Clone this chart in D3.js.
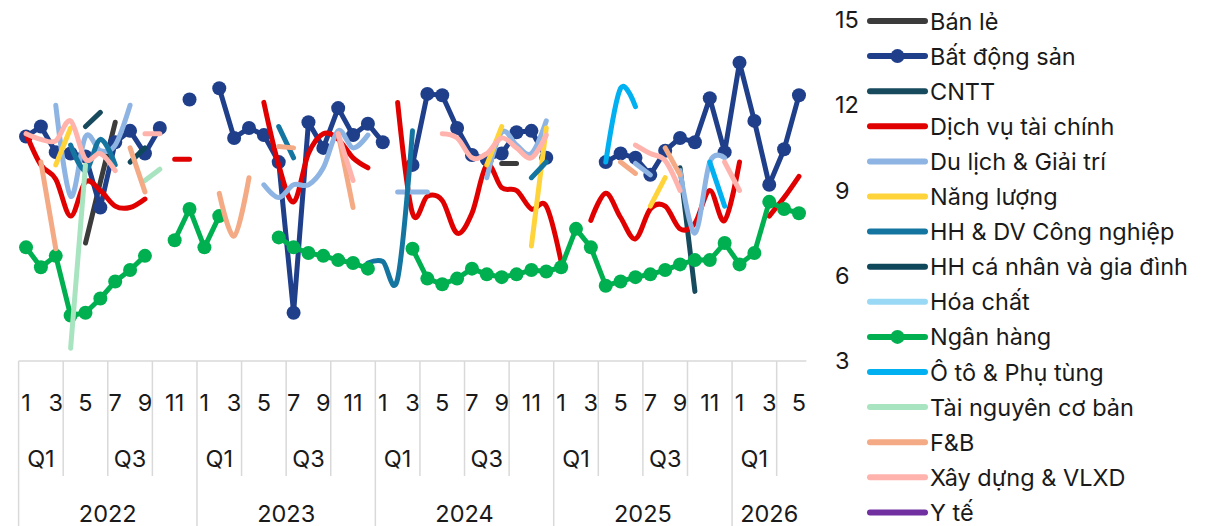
<!DOCTYPE html>
<html><head><meta charset="utf-8">
<script src="https://cdn.jsdelivr.net/npm/d3@7"></script>
<style>
body{margin:0;background:#fff;}
svg text{font-family:"Inter","Noto Sans",sans-serif;fill:#1a1a1a;}
</style></head><body>
<svg id="chart" width="1211" height="526"></svg>
<script>
// ---------- DATA ----------
const categories = [
 "2022-01","2022-02","2022-03","2022-04","2022-05","2022-06","2022-07","2022-08","2022-09","2022-10","2022-11","2022-12",
 "2023-01","2023-02","2023-03","2023-04","2023-05","2023-06","2023-07","2023-08","2023-09","2023-10","2023-11","2023-12",
 "2024-01","2024-02","2024-03","2024-04","2024-05","2024-06","2024-07","2024-08","2024-09","2024-10","2024-11","2024-12",
 "2025-01","2025-02","2025-03","2025-04","2025-05","2025-06","2025-07","2025-08","2025-09","2025-10","2025-11","2025-12",
 "2026-01","2026-02","2026-03","2026-04","2026-05"];
const yearLabels = ["2022","2023","2024","2025","2026"];
const quarterLabels = ["Q1","","Q3",""];
const monthLabels = ["1","","3","","5","","7","","9","","11",""];
const yTicks = [3,6,9,12,15];

const _ = null;
const banLe = [_,_,_,_,7.15,9.3,11.4,_,_,_,_,_, _,_,_,_,_,_,_,_,_,_,_,_, _,_,_,_,_,_,_,_,9.95,9.95,_,_, _,_,_,_,_,_,_,_,_,_,_,_, _,_,_,_,_];
const batDongSan = [10.9,11.25,10.35,10.3,10.2,8.4,10.7,11.1,10.3,11.2,_,12.2,
 _,12.6,10.85,11.2,10.95,10.0,4.7,11.4,10.5,11.9,10.95,11.35,
 10.7,_,9.9,12.4,12.35,11.2,10.25,10.1,10.3,11.05,11.1,10.15,
 _,_,_,10.0,10.3,10.15,9.55,10.4,10.85,10.7,12.25,10.35,
 13.5,11.45,9.2,10.45,12.35];
const cntt = [_,_,_,_,11.25,11.75,_,_,_,_,_,_, _,_,_,_,_,_,_,_,_,_,_,_, _,_,_,_,_,_,_,_,_,_,_,_, _,_,_,_,_,_,_,_,9.8,5.45,_,_, _,_,_,_,_];
const dichVuTC = [11.0,9.9,9.4,8.1,9.3,9.0,8.45,8.4,8.7,_,10.1,10.1,
 _,_,_,_,12.1,9.9,8.6,10.3,11.0,10.8,10.15,9.8,
 _,12.1,8.2,8.8,8.65,7.5,8.2,9.9,9.1,9.0,8.35,8.45,
 6.5,_,7.95,8.9,8.05,7.3,8.35,8.45,7.65,7.85,9.0,7.95,
 10.0,_,8.1,8.75,9.5];
const duLich = [_,_,12.0,8.8,10.9,10.4,10.6,12.0,_,_,_,_,
 _,_,_,_,9.2,8.75,9.2,9.2,9.8,11.1,10.5,10.95,
 _,8.95,8.95,8.95,_,_,_,9.45,11.05,10.6,10.3,11.45,
 _,_,_,_,_,9.95,9.55,_,9.7,7.5,10.0,10.15,
 _,_,_,_,_];
const nangLuong = [_,_,9.9,11.2,_,_,_,_,_,_,_,_, _,_,_,_,_,_,_,_,_,_,_,_, _,_,_,_,_,_,_,9.9,11.25,_,7.05,11.2, _,_,_,_,_,_,8.45,9.45,_,_,_,_, _,_,_,_,_];
const hhDvCN = [_,_,_,10.6,9.7,10.8,9.9,_,_,_,_,_, _,_,_,_,_,11.25,10.15,_,_,_,_,6.45, 6.5,5.9,11.1,_,_,_,_,_,_,_,9.45,10.0, _,_,_,_,_,_,_,_,_,_,_,_, _,_,_,_,_];
const hhCaNhan = [_,_,_,_,_,_,_,10.0,10.5,_,_,_, _,_,_,_,_,_,_,_,_,_,_,_, _,_,_,_,_,_,_,_,_,_,_,_, _,_,_,_,_,_,_,_,_,_,_,_, _,_,_,_,_];
const hoaChat = [_,_,_,_,_,_,_,_,_,_,_,_, _,_,_,_,_,_,_,_,_,_,_,_, _,_,_,_,_,_,_,_,_,_,_,_, _,_,_,_,_,_,_,_,_,_,_,_, _,_,_,_,_];
const nganHang = [7.0,6.3,6.7,4.6,4.7,5.2,5.8,6.2,6.7,_,7.25,8.35,
 7.0,8.1,_,_,_,7.35,7.0,6.8,6.7,6.55,6.45,6.25,
 _,_,6.95,5.9,5.7,5.9,6.25,6.05,5.95,6.05,6.2,6.15,
 6.3,7.65,7.0,5.65,5.8,5.95,6.05,6.2,6.4,6.55,6.55,7.15,
 6.4,6.8,8.6,8.35,8.2];
const otoPhuTung = [_,_,_,_,_,_,_,_,_,_,_,_, _,_,_,_,_,_,_,_,_,_,_,_, _,_,_,_,_,_,_,_,_,_,_,_, _,_,_,10.0,12.6,11.95,_,_,_,_,10.0,8.45, _,_,_,_,_];
const taiNguyen = [_,_,_,3.45,9.9,_,_,_,9.35,9.75,_,_, _,_,_,_,_,_,_,_,_,_,_,_, _,_,_,_,_,_,_,_,_,_,_,_, _,_,_,_,_,_,_,_,_,_,_,_, _,_,_,_,_];
const fnb = [_,10.0,6.95,_,_,_,_,10.5,8.95,_,_,_, _,8.9,7.4,9.45,_,10.55,10.5,_,_,11.0,8.4,_, _,_,_,_,_,_,_,_,_,_,_,_, _,_,_,_,10.0,9.6,_,10.5,9.55,_,_,_, _,_,_,_,_];
const xayDung = [11.0,10.8,10.75,11.45,10.1,10.3,9.7,_,11.0,11.0,_,_,
 _,_,_,_,_,_,_,_,_,11.0,9.35,_,
 _,_,_,_,11.0,10.85,10.15,10.3,10.85,10.5,10.15,10.95,
 _,_,_,_,_,10.6,10.3,10.05,9.0,_,_,10.0,
 9.0,_,_,_,_];
const yTe = [_,_,_,_,_,_,_,_,_,_,_,_, _,_,_,_,_,_,_,_,_,_,_,_, _,_,_,_,_,_,_,_,_,_,_,_, _,_,_,_,_,_,_,_,_,_,_,_, _,_,_,_,_];

const seriesNames = ["Bán lẻ","Bất động sản","CNTT","Dịch vụ tài chính","Du lịch & Giải trí","Năng lượng","HH & DV Công nghiệp","HH cá nhân và gia đình","Hóa chất","Ngân hàng","Ô tô & Phụ tùng","Tài nguyên cơ bản","F&B","Xây dựng & VLXD","Y tế"];
const seriesValues = [banLe,batDongSan,cntt,dichVuTC,duLich,nangLuong,hhDvCN,hhCaNhan,hoaChat,nganHang,otoPhuTung,taiNguyen,fnb,xayDung,yTe];
const seriesColors = ["#3b3b3b","#1f3f8a","#184a5e","#e00000","#8db4e2","#ffd43b","#1476a0","#0f475b","#9ad9f5","#00b050","#00b0f0","#a8e4c0","#f4aa84","#ffb3ac","#7030a0"];
const seriesMarkers = [false,true,false,false,false,false,false,false,false,true,false,false,false,false,false];
const seriesSmooth = [false,false,false,true,true,true,true,false,true,false,true,true,true,true,true];

// ---------- CHART ----------
const FS = 23.5;
const svg = d3.select("#chart");
svg.append("rect").attr("width",1211).attr("height",526).attr("fill","#fff");

const x = d3.scaleBand().domain(categories).range([18.6, 806.4]).padding(0);
const xc = c => x(c) + x.bandwidth()/2;
const y = d3.scaleLinear().domain([3,15]).range([361,20]);

// category axis frame
const axisTop = y(3);
const gAx = svg.append("g");
const lineCol = "#d9d9d9";
gAx.append("line").attr("x1",x.range()[0]).attr("x2",x.range()[1]).attr("y1",axisTop).attr("y2",axisTop).attr("stroke",lineCol).attr("stroke-width",1.5);
const quarterStarts = categories.filter(c => (+c.slice(5,7)-1)%3===0);
quarterStarts.forEach(c=>{
  const isYear = c.endsWith("-01");
  gAx.append("line").attr("x1",x(c)).attr("x2",x(c)).attr("y1",axisTop).attr("y2",isYear?526:476)
    .attr("stroke",lineCol).attr("stroke-width",1.5);
});
categories.forEach(c=>{
  const m = +c.slice(5,7);
  const lab = monthLabels[m-1];
  if(lab) gAx.append("text").attr("x",xc(c)).attr("y",402).attr("text-anchor","middle").attr("dominant-baseline","central").attr("font-size",FS).text(lab);
});
quarterStarts.forEach(c=>{
  const q = Math.floor((+c.slice(5,7)-1)/3);
  const lab = quarterLabels[q];
  const members = categories.filter(d=>d.slice(0,4)===c.slice(0,4) && Math.floor((+d.slice(5,7)-1)/3)===q);
  if(lab && members.length===3){
    const cx = (x(members[0]) + x(members[members.length-1]) + x.bandwidth())/2;
    gAx.append("text").attr("x",cx).attr("y",458).attr("text-anchor","middle").attr("dominant-baseline","central").attr("font-size",FS).text(lab);
  }
});
yearLabels.forEach(yr=>{
  const members = categories.filter(d=>d.startsWith(yr));
  const cx = (x(members[0]) + x(members[members.length-1]) + x.bandwidth())/2;
  gAx.append("text").attr("x",cx).attr("y",513).attr("text-anchor","middle").attr("dominant-baseline","central").attr("font-size",FS).text(yr);
});

// y axis (right side)
const yAxis = d3.axisRight(y).tickValues(yTicks).tickSize(0).tickPadding(9).tickFormat(d3.format("d"));
const gy = svg.append("g").attr("transform","translate(826,0)").call(yAxis);
gy.select(".domain").remove();
gy.selectAll("text").attr("font-size",FS).attr("fill","#1a1a1a").style("font-family",'"Inter","Noto Sans",sans-serif');

// series
const gS = svg.append("g");
seriesValues.forEach((vals,si)=>{
  const line = d3.line().defined(d=>d!=null).x((d,i)=>xc(categories[i])).y(d=>y(d))
    .curve(seriesSmooth[si] ? d3.curveCardinal.tension(0) : d3.curveLinear);
  gS.append("path").attr("d",line(vals)).attr("fill","none").attr("stroke",seriesColors[si])
    .attr("stroke-width",5).attr("stroke-linecap","round").attr("stroke-linejoin","round");
  if(seriesMarkers[si]){
    gS.selectAll(null).data(vals.map((v,i)=>({v,i})).filter(d=>d.v!=null)).enter().append("circle")
      .attr("cx",d=>xc(categories[d.i])).attr("cy",d=>y(d.v)).attr("r",7).attr("fill",seriesColors[si]);
  }
});

// legend
const gL = svg.append("g");
seriesNames.forEach((n,i)=>{
  const ly = 21 + i*35.1;
  gL.append("line").attr("x1",870).attr("x2",925).attr("y1",ly).attr("y2",ly).attr("stroke",seriesColors[i]).attr("stroke-width",6).attr("stroke-linecap","round");
  if(seriesMarkers[i]) gL.append("circle").attr("cx",897.5).attr("cy",ly).attr("r",7).attr("fill",seriesColors[i]);
  gL.append("text").attr("x",930).attr("y",ly).attr("dominant-baseline","central").attr("font-size",FS).text(n);
});
</script>
</body></html>
